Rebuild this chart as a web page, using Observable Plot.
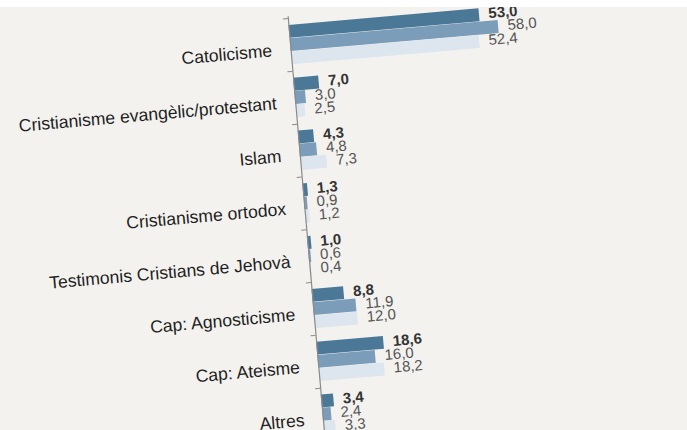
<!DOCTYPE html>
<html>
<head>
<meta charset="utf-8">
<script src="https://cdn.jsdelivr.net/npm/d3@7"></script>
<script src="https://cdn.jsdelivr.net/npm/@observablehq/plot@0.6"></script>
<style>
  html, body { margin: 0; padding: 0; width: 687px; height: 430px; overflow: hidden; background: #f3f2ef; }
  #wrap { position: relative; width: 687px; height: 430px; overflow: hidden; }
  #edge { position: absolute; left: 0; top: 0; width: 687px; height: 7px; background: #ffffff; z-index: 2; }
  #chart svg { position: absolute; left: 0; top: 0; transform: rotate(-5deg); transform-origin: 300px 215px; }
</style>
</head>
<body>
<div id="wrap"><div id="edge"></div><div id="chart"></div></div>
<script>
const categories = [
  "Catolicisme",
  "Cristianisme evangèlic/protestant",
  "Islam",
  "Cristianisme ortodox",
  "Testimonis Cristians de Jehovà",
  "Cap: Agnosticisme",
  "Cap: Ateisme",
  "Altres"
];
const serie1 = [53.0, 7.0, 4.3, 1.3, 1.0, 8.8, 18.6, 3.4];
const serie2 = [58.0, 3.0, 4.8, 0.9, 0.6, 11.9, 16.0, 2.4];
const serie3 = [52.4, 2.5, 7.3, 1.2, 0.4, 12.0, 18.2, 3.3];
const seriesNames = ["Sèrie 1", "Sèrie 2", "Sèrie 3"];
const seriesColors = ["#4b7896", "#7c9dba", "#dde6ee"];

const allSeries = [serie1, serie2, serie3];
const data = categories.flatMap((c, i) =>
  allSeries.map((s, j) => ({category: c, series: seriesNames[j], idx: j, value: s[i]}))
);

const band = 53.4;
const pad = 6.7;
const barH = 13.3;
const fmt = d => d.value.toFixed(1).replace(".", ",");

const marks = [];
seriesNames.forEach((name, j) => {
  const sub = data.filter(d => d.idx === j);
  marks.push(Plot.barX(sub, {
    x: "value", y: "category", fill: "series",
    insetTop: pad + barH * j,
    insetBottom: band - pad - barH * (j + 1)
  }));
});
seriesNames.forEach((name, j) => {
  const sub = data.filter(d => d.idx === j);
  marks.push(Plot.text(sub, {
    x: "value", y: "category", text: fmt,
    dx: 9, dy: (j - 1) * barH - 1,
    textAnchor: "start",
    fontSize: 15,
    fontWeight: j === 0 ? "bold" : "normal",
    fill: j === 0 ? "#333333" : "#555555"
  }));
});
marks.push(Plot.ruleX([0], {stroke: "#8a8a8a", strokeWidth: 1.2}));
marks.push(Plot.ruleY(categories, {y: d => d, x1: -1.4, x2: 0, dy: -band / 2, stroke: "#8a8a8a"}));
marks.push(Plot.axisY({
  tickSize: 0, tickPadding: 19, fontSize: 17.6, dy: 4, fill: "#1e1e1e", label: null
}));

const chart = Plot.plot({
  width: 687,
  height: 16 + band * categories.length + 10,
  marginTop: 16,
  marginBottom: 10,
  marginLeft: 305,
  marginRight: 166,
  style: {fontFamily: "'Liberation Sans', Arial, sans-serif", background: "transparent", overflow: "visible"},
  x: {domain: [0, 60], axis: null},
  y: {domain: categories, padding: 0, axis: null},
  color: {domain: seriesNames, range: seriesColors},
  marks
});
document.getElementById("chart").appendChild(chart);
</script>
</body>
</html>
